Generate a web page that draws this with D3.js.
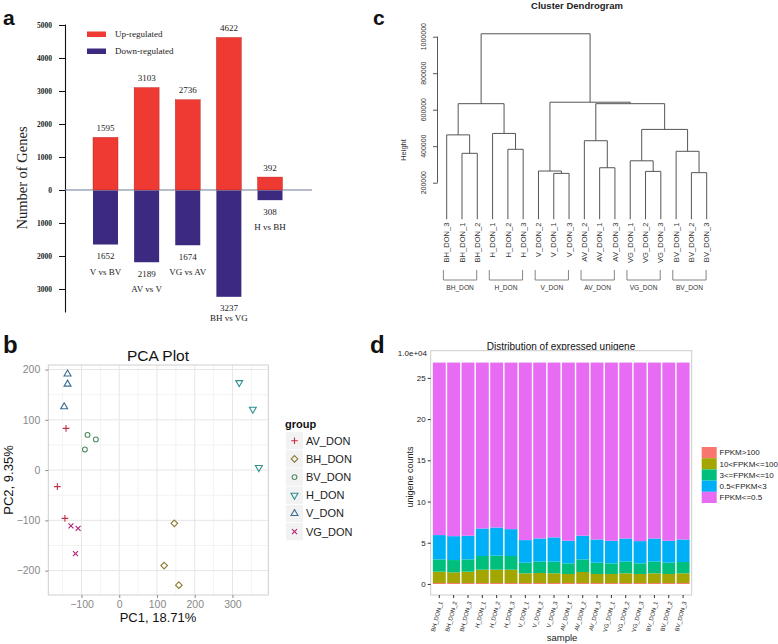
<!DOCTYPE html>
<html><head><meta charset="utf-8">
<script src="https://cdn.jsdelivr.net/npm/d3@7/dist/d3.min.js"></script>
<style>body{margin:0;background:#fff} svg{display:block}</style>
</head><body><svg id="fig" width="778" height="644"></svg>
<script>
// ---------- Panel a data ----------
const comparisons = ["V vs BV", "AV vs V", "VG vs AV", "BH vs VG", "H vs BH"];
const upRegulated = [1595, 3103, 2736, 4622, 392];
const downRegulated = [1652, 2189, 1674, 3237, 308];
const geneTicks = [-3000, -2000, -1000, 0, 1000, 2000, 3000, 4000, 5000];

// ---------- Panel c data (hclust style: negative = leaf, positive = merge) ----------
const leafLabels = ["BH_DON_3","BH_DON_1","BH_DON_2","H_DON_1","H_DON_2","H_DON_3","V_DON_2","V_DON_1","V_DON_3",
  "AV_DON_2","AV_DON_1","AV_DON_3","VG_DON_1","VG_DON_2","VG_DON_3","BV_DON_1","BV_DON_2","BV_DON_3"];
const mergeLeft  = [-2, -1, -5, -4, 2, -8, -7, -11, -10, -14, -13, -17, -16, 11, 9, 7, 5];
const mergeRight = [-3,  1, -6,  3, 4, -9,  6, -12,   8, -15,  10, -18,  12, 13, 14, 15, 16];
const mergeHeight = [361000, 462000, 383000, 470000, 633000, 251000, 264000, 282000, 430000,
  262000, 320000, 255000, 372000, 492000, 633000, 641000, 1016000];
const heightTicks = [200000, 400000, 600000, 800000, 1000000];
const clusterGroups = ["BH_DON", "H_DON", "V_DON", "AV_DON", "VG_DON", "BV_DON"];

// ---------- Panel b data ----------
const pcaGroups = ["AV_DON", "BH_DON", "BV_DON", "H_DON", "V_DON", "VG_DON"];
const pcaSampleGroup = ["AV_DON","AV_DON","AV_DON","BH_DON","BH_DON","BH_DON","BV_DON","BV_DON","BV_DON",
  "H_DON","H_DON","H_DON","V_DON","V_DON","V_DON","VG_DON","VG_DON","VG_DON"];
const pc1 = [-141, -164, -144, 146, 119, 158, -84, -62, -91, 318, 354, 370, -137, -137, -146, -128, -109, -116];
const pc2 = [83, -33, -96, -106, -190, -229, 70, 61, 41, 174, 121, 5, 191, 171, 126, -111, -116, -166];
const pc1Ticks = [-100, 0, 100, 200, 300];
const pc2Ticks = [-200, -100, 0, 100, 200];

// ---------- Panel d data ----------
const samples = ["BH_DON_1","BH_DON_2","BH_DON_3","H_DON_1","H_DON_2","H_DON_3","V_DON_1","V_DON_2","V_DON_3",
  "AV_DON_1","AV_DON_2","AV_DON_3","VG_DON_1","VG_DON_2","VG_DON_3","BV_DON_1","BV_DON_2","BV_DON_3"];
const fpkmClasses = ["FPKM>100", "10<FPKM<=100", "3<=FPKM<=10", "0.5<FPKM<3", "FPKM<=0.5"];
const fpkmOver100 = [0.12,0.12,0.12,0.12,0.12,0.12,0.12,0.12,0.12,0.12,0.12,0.12,0.12,0.12,0.12,0.12,0.12,0.12];
const fpkm10to100 = [1.37,1.29,1.37,1.61,1.61,1.61,1.17,1.21,1.17,1.09,1.33,1.09,1.09,1.17,1.09,1.17,1.09,1.17];
const fpkm3to10   = [1.49,1.49,1.49,1.66,1.70,1.66,1.29,1.37,1.41,1.29,1.53,1.37,1.29,1.41,1.29,1.41,1.37,1.37];
const fpkm05to3   = [2.95,2.90,2.87,3.34,3.42,3.26,2.74,2.82,2.95,2.74,2.87,2.82,2.74,2.82,2.70,2.82,2.66,2.74];
const fpkmUnder05 = [20.93,21.06,21.01,20.13,20.01,20.21,21.54,21.34,21.21,21.62,21.01,21.46,21.62,21.34,21.66,21.34,21.62,21.46];
const countTicks = [0, 5, 10, 15, 20, 25];

const SERIF = "'Liberation Serif', 'Times New Roman', serif";
const SANS = "'Liberation Sans', Arial, sans-serif";
const svg = d3.select("#fig");

// panel letters
[["a",3,25,21],["c",373,25,21],["b",3,353,24],["d",370,353,24]].forEach(([t,x,y,s]) =>
  svg.append("text").attr("x",x).attr("y",y).attr("font-family",SANS).attr("font-weight","bold")
     .attr("font-size",s).attr("fill","#111").text(t));

// ================= Panel a =================
(function(){
  const g = svg.append("g").attr("font-family", SERIF);
  const y = d3.scaleLinear().domain([-3697, 5030]).range([312, 24]);
  const x = d3.scalePoint().domain(comparisons).range([105.5, 270]);
  const bw = 25;
  const ax = g.append("g").attr("transform","translate(65,0)")
    .call(d3.axisLeft(y).tickValues(geneTicks).tickFormat(d => Math.abs(d)).tickSizeInner(6).tickSizeOuter(0).tickPadding(7));
  ax.select(".domain").attr("stroke","#111").attr("stroke-width",1.1);
  ax.selectAll(".tick line").attr("stroke","#111");
  ax.selectAll(".tick text").attr("font-family",SERIF).attr("font-size",7.5).attr("font-weight","bold").attr("fill","#222");
  // zero line
  g.append("line").attr("x1",65).attr("x2",312).attr("y1",y(0)).attr("y2",y(0)).attr("stroke","#6d7a95").attr("stroke-width",1);
  comparisons.forEach((c,i) => {
    const cx = x(c);
    g.append("rect").attr("x",cx-bw/2).attr("y",y(upRegulated[i])).attr("width",bw)
      .attr("height",y(0)-y(upRegulated[i])).attr("fill","#ee3a33").attr("stroke","#b02020").attr("stroke-width",0.4);
    g.append("rect").attr("x",cx-bw/2).attr("y",y(0)+0.5).attr("width",bw)
      .attr("height",y(-downRegulated[i])-y(0)-0.5).attr("fill","#3c2a80");
    g.append("text").attr("x",cx).attr("y",y(upRegulated[i])-6.5).attr("text-anchor","middle")
      .attr("font-size",9).attr("fill","#222").text(upRegulated[i]);
    g.append("text").attr("x",cx).attr("y",y(-downRegulated[i])+14.5).attr("text-anchor","middle")
      .attr("font-size",9).attr("fill","#222").text(downRegulated[i]);
    const off = i === 3 ? 24 : 30;
    g.append("text").attr("x",cx).attr("y",y(-downRegulated[i])+off).attr("text-anchor","middle")
      .attr("font-size",9).attr("fill","#222").text(c);
  });
  // legend
  const leg = [["Up-regulated","#ee3a33",31.5],["Down-regulated","#3c2a80",48.5]];
  leg.forEach(([t,c,yy]) => {
    g.append("rect").attr("x",87).attr("y",yy).attr("width",19).attr("height",5.5).attr("fill",c);
    g.append("text").attr("x",115).attr("y",yy+5).attr("font-size",9).attr("fill","#222").text(t);
  });
  g.append("text").attr("transform","translate(27,178) rotate(-90)").attr("text-anchor","middle")
    .attr("font-size",14.5).attr("fill","#222").text("Number of Genes");
})();

// ================= Panel c =================
(function(){
  const g = svg.append("g").attr("font-family", SANS);
  const x = d3.scalePoint().domain(leafLabels).range([446.7, 706.7]);
  const y = d3.scaleLinear().domain([0, 1000000]).range([219.2, 36.7]);
  const col = "#555";
  g.append("text").attr("x",577).attr("y",8.6).attr("text-anchor","middle").attr("font-size",9.5)
    .attr("font-weight","bold").attr("fill","#222").text("Cluster Dendrogram");
  // axis
  const ax = g.append("g").attr("transform","translate(437.5,0)")
    .call(d3.axisLeft(y).tickValues(heightTicks).tickFormat("").tickSizeInner(4.5).tickSizeOuter(0));
  ax.select(".domain").remove();
  ax.selectAll(".tick line").attr("stroke",col);
  g.append("line").attr("x1",437.5).attr("x2",437.5).attr("y1",y(heightTicks[0])).attr("y2",y(heightTicks[heightTicks.length-1]))
    .attr("stroke",col);
  heightTicks.forEach(v => g.append("text").attr("transform",`translate(425.5,${y(v)}) rotate(-90)`)
    .attr("text-anchor","middle").attr("font-size",7).attr("fill","#333").text(v));
  g.append("text").attr("transform","translate(406,150) rotate(-90)").attr("text-anchor","middle")
    .attr("font-size",7.5).attr("fill","#333").text("Height");
  // tree
  const nodeX = [], nodeY = [];
  const pos = k => k < 0 ? [x(leafLabels[-k-1]), y(0)] : [nodeX[k-1], nodeY[k-1]];
  mergeHeight.forEach((h,i) => {
    const [x1,y1] = pos(mergeLeft[i]);
    const [x2,y2] = pos(mergeRight[i]);
    const yh = y(h);
    nodeX[i] = (x1+x2)/2; nodeY[i] = yh;
    g.append("path").attr("d",`M${x1},${y1}V${yh}H${x2}V${y2}`).attr("fill","none").attr("stroke",col).attr("stroke-width",1);
  });
  // leaf labels
  leafLabels.forEach(l => g.append("text").attr("transform",`translate(${x(l)},222.5) rotate(-90)`)
    .attr("text-anchor","end").attr("dy","0.35em").attr("font-size",7.6).attr("fill","#333").text(l));
  // group brackets
  clusterGroups.forEach((gr,i) => {
    const a = x(leafLabels[i*3]) - 3.3, b = x(leafLabels[i*3+2]) - 0.6;
    g.append("path").attr("d",`M${a},270V280H${b}V270`).attr("fill","none").attr("stroke","#666").attr("stroke-width",0.8);
    g.append("text").attr("x",(a+b)/2).attr("y",290).attr("text-anchor","middle").attr("font-size",6.6)
      .attr("fill","#333").text(gr);
  });
})();

// ================= Panel b =================
(function(){
  const g = svg.append("g").attr("font-family", SANS);
  const L = 48.3, R = 268.3, T = 365, B = 595;
  const x = d3.scaleLinear().domain([-188, 395]).range([L, R]);
  const y = d3.scaleLinear().domain([-248.5, 209]).range([B, T]);
  const colors = {AV_DON:"#c0304a", BH_DON:"#8c7a30", BV_DON:"#4f8a60", H_DON:"#2f8f8f", V_DON:"#3a6a90", VG_DON:"#b0207a"};
  g.append("rect").attr("x",L).attr("y",T).attr("width",R-L).attr("height",B-T).attr("fill","#fff");
  [-150,-50,50,150,250,350].forEach(v => g.append("line").attr("x1",x(v)).attr("x2",x(v)).attr("y1",T).attr("y2",B).attr("stroke","#f3f3f3"));
  [-150,-50,50,150].forEach(v => g.append("line").attr("y1",y(v)).attr("y2",y(v)).attr("x1",L).attr("x2",R).attr("stroke","#f3f3f3"));
  pc1Ticks.forEach(v => g.append("line").attr("x1",x(v)).attr("x2",x(v)).attr("y1",T).attr("y2",B).attr("stroke","#e6e6e6"));
  pc2Ticks.forEach(v => g.append("line").attr("y1",y(v)).attr("y2",y(v)).attr("x1",L).attr("x2",R).attr("stroke","#e6e6e6"));
  g.append("rect").attr("x",L).attr("y",T).attr("width",R-L).attr("height",B-T).attr("fill","none").attr("stroke","#cfcfcf");
  const axl = g.append("g").attr("transform",`translate(${L},0)`).call(d3.axisLeft(y).tickValues(pc2Ticks).tickSize(3).tickPadding(5));
  const axb = g.append("g").attr("transform",`translate(0,${B})`).call(d3.axisBottom(x).tickValues(pc1Ticks).tickSize(3).tickPadding(3));
  [axl, axb].forEach(a => {
    a.select(".domain").remove();
    a.selectAll(".tick line").attr("stroke","#8a8a8a");
    a.selectAll(".tick text").attr("font-family",SANS).attr("font-size",10.5).attr("fill","#888");
  });
  const shape = (t) => {
    switch(t){
      case "AV_DON": { const r=3.3; return `M${-r},0H${r}M0,${-r}V${r}`; }
      case "VG_DON": { const r=2.5; return `M${-r},${-r}L${r},${r}M${-r},${r}L${r},${-r}`; }
      case "BH_DON": { const r=3.3; return `M0,${-r}L${r},0L0,${r}L${-r},0Z`; }
      case "BV_DON": { const r=2.4; return `M${r},0A${r},${r} 0 1,1 ${-r},0A${r},${r} 0 1,1 ${r},0Z`; }
      case "V_DON":  { const r=4; return `M0,${-r}L${r*0.866},${r*0.5}L${-r*0.866},${r*0.5}Z`; }
      case "H_DON":  { const r=4; return `M0,${r}L${r*0.866},${-r*0.5}L${-r*0.866},${-r*0.5}Z`; }
    }
  };
  pc1.forEach((v,i) => {
    const gr = pcaSampleGroup[i];
    g.append("path").attr("d",shape(gr)).attr("transform",`translate(${x(v)},${y(pc2[i])})`)
      .attr("fill","none").attr("stroke",colors[gr]).attr("stroke-width",1.1);
  });
  g.append("text").attr("x",158).attr("y",360.5).attr("text-anchor","middle").attr("font-size",15.5).attr("fill","#111").text("PCA Plot");
  g.append("text").attr("x",158).attr("y",622).attr("text-anchor","middle").attr("font-size",13).attr("fill","#111").text("PC1, 18.71%");
  g.append("text").attr("transform","translate(12.5,480) rotate(-90)").attr("text-anchor","middle").attr("font-size",13).attr("fill","#111").text("PC2, 9.35%");
  // legend
  g.append("text").attr("x",285).attr("y",428).attr("font-size",11).attr("font-weight","bold").attr("fill","#111").text("group");
  pcaGroups.forEach((gr,i) => {
    const cy = 440.7 + i*18.2;
    g.append("rect").attr("x",286).attr("y",cy-8.6).attr("width",17).attr("height",17.2).attr("fill","#f2f2f2");
    g.append("path").attr("d",shape(gr)).attr("transform",`translate(294.5,${cy})`).attr("fill","none")
      .attr("stroke",colors[gr]).attr("stroke-width",1.1);
    g.append("text").attr("x",306).attr("y",cy).attr("dy","0.35em").attr("font-size",11).attr("fill","#222").text(gr);
  });
})();

// ================= Panel d =================
(function(){
  const g = svg.append("g").attr("font-family", SANS);
  const L = 430.7, R = 691.7, T = 350.7, B = 595;
  const x = d3.scaleBand().domain(samples).range([L, R]).paddingInner(0.1).paddingOuter(0.15);
  const y = d3.scaleLinear().domain([-1.34, 28.3]).range([B, T]);
  const fills = ["#F8766D", "#A3A500", "#00BF7D", "#00B0F6", "#E76BF3"];
  const series = [fpkmOver100, fpkm10to100, fpkm3to10, fpkm05to3, fpkmUnder05];
  const table = samples.map((s,i) => { const o = {sample:s}; fpkmClasses.forEach((k,j) => o[k] = series[j][i]); return o; });
  const stack = d3.stack().keys(fpkmClasses)(table);
  g.append("text").attr("x",561).attr("y",350).attr("text-anchor","middle").attr("font-size",10).attr("fill","#111")
    .text("Distribution of expressed unigene");
  g.append("rect").attr("x",L).attr("y",T).attr("width",R-L).attr("height",B-T).attr("fill","#fff").attr("stroke","#cdcdcd");
  stack.forEach((layer,j) => {
    g.append("g").selectAll("rect").data(layer).join("rect")
      .attr("x", d => x(d.data.sample)).attr("width", x.bandwidth())
      .attr("y", d => y(d[1])).attr("height", d => y(d[0]) - y(d[1]))
      .attr("fill", fills[j]);
  });
  const axl = g.append("g").attr("transform",`translate(${L},0)`).call(d3.axisLeft(y).tickValues(countTicks).tickSize(3).tickPadding(2));
  axl.select(".domain").remove();
  axl.selectAll(".tick line").attr("stroke","#333");
  axl.selectAll(".tick text").attr("font-family",SANS).attr("font-size",8).attr("fill","#222");
  const axb = g.append("g").attr("transform",`translate(0,${B})`).call(d3.axisBottom(x).tickSize(3));
  axb.select(".domain").remove();
  axb.selectAll(".tick line").attr("stroke","#333");
  axb.selectAll(".tick text").attr("font-family",SANS).attr("font-size",5.9).attr("fill","#222")
    .attr("text-anchor","end").attr("x",0).attr("y",0).attr("dy","0.35em")
    .attr("transform","translate(1.5,6.5) rotate(-75)");
  g.append("text").attr("x",427).attr("y",356).attr("text-anchor","end").attr("font-size",8).attr("fill","#222").text("1.0e+04");
  g.append("text").attr("transform","translate(413,477) rotate(-90)").attr("text-anchor","middle").attr("font-size",9).attr("fill","#222").text("unigene counts");
  g.append("text").attr("x",562).attr("y",641).attr("text-anchor","middle").attr("font-size",9.5).attr("fill","#222").text("sample");
  // legend
  fpkmClasses.forEach((k,j) => {
    const yy = 447 + j*11.2;
    g.append("rect").attr("x",701.7).attr("y",yy).attr("width",15).attr("height",11.2).attr("fill",fills[j]);
    g.append("text").attr("x",719.5).attr("y",yy+5.6).attr("dy","0.35em").attr("font-size",8).attr("fill","#222").text(k);
  });
})();
</script></body></html>
